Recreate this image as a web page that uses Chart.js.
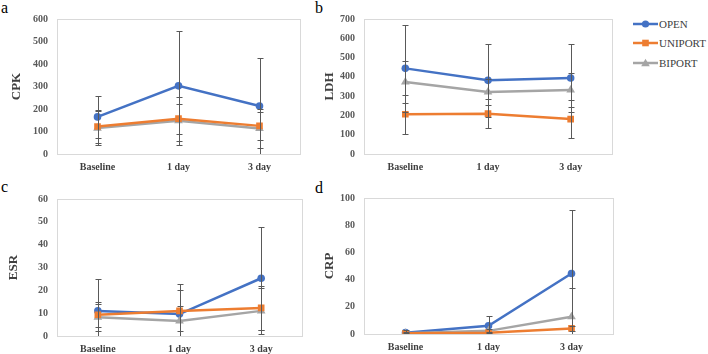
<!DOCTYPE html>
<html lang="en-US">
<head>
  <meta charset="utf-8">
  <title>CPK / LDH / ESR / CRP</title>
  <script src="https://cdn.jsdelivr.net/npm/chart.js@4.4.1/dist/chart.umd.min.js"></script>
  <style>
    html, body { margin: 0; padding: 0; background: #fff; }
    body { width: 708px; height: 354px; position: relative; overflow: hidden; font-family: "Liberation Serif", serif; }
    canvas { position: absolute; }
    .letter { position: absolute; font-size: 16px; color: #000; line-height: 16px; }
    .legend { position: absolute; left: 633px; top: 14px; font-size: 11px; color: #404040; }
    .legend div { height: 19.5px; display: flex; align-items: center; }
    .legend svg { margin-right: 1px; }
  </style>
</head>
<body>
  <div class="letter" style="left:1px;top:0px">a</div>
  <div class="letter" style="left:315px;top:0px">b</div>
  <div class="letter" style="left:1px;top:179px">c</div>
  <div class="letter" style="left:315px;top:180px">d</div>

  <canvas id="chart-a" width="303" height="172" style="left:3px;top:4px"></canvas>
  <canvas id="chart-b" width="308" height="172" style="left:310px;top:4px"></canvas>
  <canvas id="chart-c" width="305" height="174" style="left:3px;top:184px"></canvas>
  <canvas id="chart-d" width="309" height="173" style="left:310px;top:183px"></canvas>

  <div class="legend">
    <div><svg width="25" height="10"><line x1="0" y1="5" x2="25" y2="5" stroke="#4472C4" stroke-width="2.5"/><circle cx="12.5" cy="5" r="3.6" fill="#4472C4"/></svg>OPEN</div>
    <div><svg width="25" height="10"><line x1="0" y1="5" x2="25" y2="5" stroke="#ED7D31" stroke-width="2.5"/><rect x="9.2" y="1.7" width="6.6" height="6.6" fill="#ED7D31"/></svg>UNIPORT</div>
    <div><svg width="25" height="10"><line x1="0" y1="5" x2="25" y2="5" stroke="#A5A5A5" stroke-width="2.5"/><polygon points="12.5,0.8 16.8,8.3 8.2,8.3" fill="#A5A5A5"/></svg>BIPORT</div>
  </div>

  <script>

    let categories = ['Baseline', '1 day', '3 day'];
    let seriesNames = ['OPEN', 'UNIPORT', 'BIPORT'];

    // means per series (OPEN, UNIPORT, BIPORT) and error bar sizes
    let cpkMeans = [[165, 303, 213], [122, 157, 125], [115, 148, 113]];
    let cpkErrors = [[93, 244, 212], [75, 67, 63], [75, 106, 88]];

    let ldhMeans = [[444, 382, 394], [206, 209, 181], [373, 322, 332]];
    let ldhErrors = [[227, 188, 175], [101, 76, 100], [108, 68, 88]];

    let esrMeans = [[11, 9.6, 25.3], [9.3, 11, 12.3], [8.2, 6.6, 11]];
    let esrErrors = [[14, 13.3, 22.5], [5.5, 9, 9.7], [6, 6.6, 10]];

    let crpMeans = [[1, 6, 44.5], [0.5, 1, 4.1], [0.5, 2.3, 12.7]];
    let crpErrors = [[2, 7, 47], [0.5, 0.8, 2], [1, 1.5, 21]];

    let colors = ['#4472C4', '#ED7D31', '#A5A5A5'];
    let pointStyles = ['circle', 'rect', 'triangle'];
    let pointSizes = [3.8, 4.7, 5];
    let drawOrder = [2, 0, 1];

    let errorBarPlugin = {
      id: 'errorBars',
      afterDatasetsDraw(chart) {
        let ctx = chart.ctx;
        let area = chart.chartArea;
        let yScale = chart.scales.y;
        ctx.save();
        ctx.beginPath();
        ctx.rect(area.left, area.top - 1, area.right - area.left, area.bottom - area.top + 1);
        ctx.clip();
        ctx.strokeStyle = '#595959';
        ctx.lineWidth = 1;
        chart.data.datasets.forEach(function(dataset, i) {
          let meta = chart.getDatasetMeta(i);
          dataset.data.forEach(function(value, j) {
            let x = Math.round(meta.data[j].x) + 0.5;
            let err = dataset.errorBars[j];
            let yTop = Math.round(yScale.getPixelForValue(value + err)) + 0.5;
            let yBottom = Math.round(yScale.getPixelForValue(value - err)) + 0.5;
            ctx.beginPath();
            ctx.moveTo(x, yTop);
            ctx.lineTo(x, yBottom);
            ctx.moveTo(x - 3, yTop);
            ctx.lineTo(x + 3, yTop);
            ctx.moveTo(x - 3, yBottom);
            ctx.lineTo(x + 3, yBottom);
            ctx.stroke();
          });
        });
        ctx.restore();
      }
    };

    let frameBorder = {
      id: 'frameBorder',
      beforeDatasetsDraw(chart) {
        let ctx = chart.ctx;
        let area = chart.chartArea;
        ctx.save();
        ctx.strokeStyle = '#D9D9D9';
        ctx.lineWidth = 1;
        ctx.strokeRect(Math.round(area.left) + 0.5, Math.round(area.top) + 0.5,
          Math.round(area.right - area.left), Math.round(area.bottom - area.top));
        ctx.restore();
      }
    };

    function makePanel(canvasId, means, errors, yTitle, yMax, yStep, titlePad) {
      let datasets = seriesNames.map(function(name, i) {
        return {
          label: name,
          data: means[i],
          errorBars: errors[i],
          borderColor: colors[i],
          backgroundColor: colors[i],
          borderWidth: 2.5,
          pointStyle: pointStyles[i],
          pointRadius: pointSizes[i],
          pointBorderWidth: 0,
          order: drawOrder[i],
          tension: 0
        };
      });

      return new Chart(canvasId, {
        type: 'line',
        data: { labels: categories, datasets: datasets },
        plugins: [frameBorder, errorBarPlugin],
        options: {
          responsive: false,
          devicePixelRatio: 1,
          animation: false,
          layout: { padding: { top: 6, right: 6, left: 0, bottom: 0 } },
          plugins: {
            legend: { display: false },
            tooltip: { enabled: false }
          },
          scales: {
            x: {
              type: 'category',
              offset: true,
              grid: { display: false, drawTicks: false },
              border: { display: false },
              ticks: {
                padding: 7,
                color: '#404040',
                font: { family: 'Liberation Serif', size: 10, weight: 'bold' },
                maxRotation: 0
              },
              afterFit: function(scale) { scale.height = 22; }
            },
            y: {
              min: 0,
              max: yMax,
              grid: { display: false, drawTicks: false },
              border: { display: false },
              ticks: {
                stepSize: yStep,
                padding: 9,
                color: '#595959',
                font: { family: 'Liberation Serif', size: 10, weight: 'bold' }
              },
              title: {
                display: true,
                text: yTitle,
                color: '#404040',
                padding: { top: titlePad, bottom: 0 },
                font: { family: 'Liberation Serif', size: 13, weight: 'bold' }
              },
              afterFit: function(scale) { scale.width = 54; }
            }
          }
        }
      });
    }

    makePanel('chart-a', cpkMeans, cpkErrors, 'CPK', 600, 100, 6);
    makePanel('chart-b', ldhMeans, ldhErrors, 'LDH', 700, 100, 12);
    makePanel('chart-c', esrMeans, esrErrors, 'ESR', 60, 10, 3);
    makePanel('chart-d', crpMeans, crpErrors, 'CRP', 100, 20, 12);

  </script>
</body>
</html>
